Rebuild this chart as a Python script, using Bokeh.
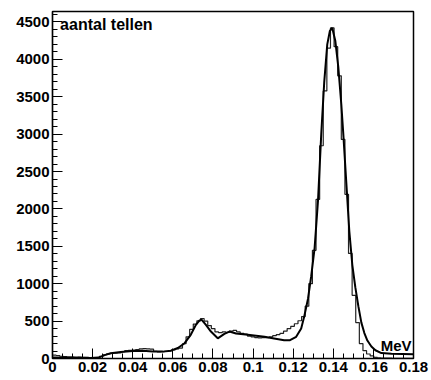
import numpy as np
from bokeh.plotting import figure
from bokeh.models import Range1d, FixedTicker, Label
from bokeh.embed import file_html
from bokeh.resources import INLINE

# Energy spectrum: 100 channels between 0 and 0.18 MeV
bin_low = 0.0
bin_high = 0.18
counts = [
    45, 40, 30, 25, 20, 18, 15, 18, 15, 14,
    12, 9, 8, 30, 50, 62, 68, 72, 75, 90,
    105, 108, 112, 118, 128, 132, 128, 125, 95, 88,
    92, 95, 100, 115, 130, 140, 197, 290, 390, 460,
    505, 535, 500, 440, 400, 355, 345, 355, 350, 365,
    375, 355, 335, 325, 300, 290, 280, 275, 280, 278,
    290, 305, 320, 335, 365, 400, 430, 465, 505, 560,
    700, 1000, 1447, 2127, 2845, 3578, 4150, 4420, 4170, 3780,
    2930, 2195, 1405, 845, 480, 200, 105, 60, 35, 15,
    8, 6, 5, 4, 3, 3, 2, 2, 2, 2,
]

# Fitted model curve
fit_x = [0.0, 0.009, 0.019, 0.023, 0.026, 0.029, 0.034, 0.040, 0.045, 0.050,
         0.055, 0.059, 0.0625, 0.0657, 0.069, 0.0715, 0.0732, 0.0743, 0.0765, 0.079,
         0.0824, 0.0857, 0.0882, 0.0915, 0.0974, 0.1057, 0.1105, 0.1155, 0.1182, 0.1215,
         0.124, 0.1255, 0.1274, 0.129, 0.1307, 0.1324, 0.134, 0.1355, 0.137, 0.1383,
         0.1395, 0.141, 0.1425, 0.144, 0.145, 0.1465, 0.148, 0.1495, 0.151, 0.1525,
         0.154, 0.1555, 0.157, 0.159, 0.161, 0.164, 0.169, 0.18]
fit_y = [15, 12, 8, 12, 45, 70, 88, 100, 102, 95,
         92, 105, 140, 200, 320, 450, 505, 520, 450, 360,
         270, 330, 360, 335, 318, 290, 268, 245, 243, 290,
         400, 560, 800, 1100, 1480, 2117, 3000, 3700, 4200, 4380,
         4420, 4250, 3900, 3400, 3000, 2350, 1700, 1250, 950, 700,
         480, 340, 240, 160, 110, 72, 62, 58]

x_tick_labels = ["0", "0.02", "0.04", "0.06", "0.08", "0.1", "0.12", "0.14", "0.16", "0.18"]
y_tick_labels = ["0", "500", "1000", "1500", "2000", "2500", "3000", "3500", "4000", "4500"]

x_ticks = [float(s) for s in x_tick_labels]
y_ticks = [float(s) for s in y_tick_labels]

FONT = "Liberation Sans"

p = figure(width=431, height=380, output_backend="svg", toolbar_location=None,
           x_range=Range1d(0, 0.18), y_range=Range1d(0, 4640),
           min_border_left=52, min_border_right=18, min_border_top=11, min_border_bottom=22,
           background_fill_color="white", border_fill_color="white")

p.xgrid.visible = False
p.ygrid.visible = False
p.outline_line_color = "black"
p.outline_line_width = 1.5

# histogram drawn as a step outline
edges = np.linspace(bin_low, bin_high, len(counts) + 1)
step_y = list(counts) + [counts[-1]]
p.step(edges, step_y, mode="after", line_color="#222222", line_width=1.2)

# fitted curve
p.line(fit_x, fit_y, line_color="black", line_width=2)

# axes, ROOT style with inward ticks
p.xaxis.ticker = FixedTicker(ticks=x_ticks, minor_ticks=list(np.arange(0, 0.1801, 0.005)))
p.yaxis.ticker = FixedTicker(ticks=y_ticks, minor_ticks=list(np.arange(0, 4601, 100)))
p.xaxis.major_label_overrides = dict(zip(x_ticks, x_tick_labels))
p.yaxis.major_label_overrides = dict(zip(y_ticks, y_tick_labels))

for ax in (p.xaxis, p.yaxis):
    ax.major_tick_in = 10
    ax.major_tick_out = 0
    ax.minor_tick_in = 5
    ax.minor_tick_out = 0
    ax.axis_line_color = "black"
    ax.axis_line_width = 1.2
    ax.major_tick_line_color = "black"
    ax.minor_tick_line_color = "black"
    ax.major_label_text_font = FONT
    ax.major_label_text_font_style = "bold"
    ax.major_label_text_font_size = "15px"
    ax.major_label_text_color = "black"
    ax.major_label_standoff = 3

p.add_layout(Label(x=0.0038, y=4470, text="aantal tellen", text_font=FONT,
                   text_font_style="bold", text_font_size="16px",
                   text_baseline="alphabetic", text_align="left", text_color="black"))
p.add_layout(Label(x=0.179, y=175, text="MeV", text_font=FONT,
                   text_font_style="bold", text_font_size="15px",
                   text_baseline="alphabetic", text_align="right", text_color="black"))

open("out.html", "w").write(file_html(p, INLINE))
